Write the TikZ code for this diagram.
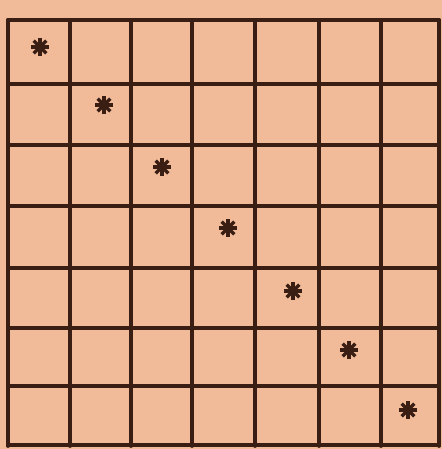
\documentclass[tikz,border=0pt]{standalone}
\usepackage{tikz}
\definecolor{gridPaper}{HTML}{F1BB9A}
\definecolor{gridInk}{HTML}{3A1E14}
\tikzset{
  gridLine/.style={draw=gridInk, line width=2.2pt, line cap=round},
  starMark/.style={
    circle, inner sep=0pt, minimum size=6mm,
    path picture={
      \foreach \ang in {0,45,90,135}
        \draw[draw=gridInk, line width=1.9pt]
          ($(path picture bounding box.center)+(\ang:1.8mm)$) --
          ($(path picture bounding box.center)+(\ang+180:1.8mm)$);
    }
  }
}
\usetikzlibrary{calc}
\begin{document}
\begin{tikzpicture}[x=0.02cm, y=-0.02cm]
  % paper
  \fill[gridPaper] (0,0) rectangle (442,449);
  \useasboundingbox (0,0) rectangle (442,449);

  % grid lines
  \foreach \gx in {8,70,131,192,255,319,381,439}
    \draw[gridLine] (\gx,20) -- (\gx,446);
  \foreach \gy in {20,84,145,206,268,328,386,445}
    \draw[gridLine] (8,\gy) -- (439,\gy);

  % diagonal stars
  \foreach \i/\sx/\sy in {1/40/47,2/104/105,3/162/167,4/228/228,5/293/291,6/349/350,7/408/410}
    \node[starMark] (star\i) at (\sx,\sy) {};
\end{tikzpicture}
\end{document}
